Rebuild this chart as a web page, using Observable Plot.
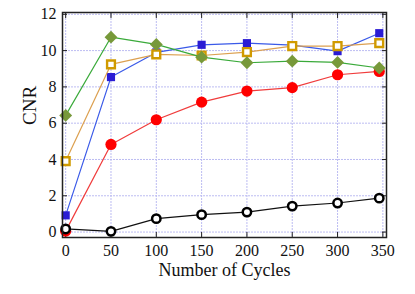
<!DOCTYPE html>
<html>
<head>
<meta charset="utf-8">
<script src="https://cdn.jsdelivr.net/npm/d3@7"></script>
<script src="https://cdn.jsdelivr.net/npm/@observablehq/plot@0.6"></script>
<style>
  html, body { margin: 0; padding: 0; background: #fff; }
  #chart { width: 415px; height: 294px; }
</style>
</head>
<body>
<div id="chart"></div>
<script>
const cycles = [0, 50, 100, 150, 200, 250, 300, 346];
const blueSquare   = [0.92, 8.54, 9.90, 10.32, 10.41, 10.30, 9.97, 10.96];
const orangeSquare = [3.91, 9.24, 9.79, 9.73, 9.92, 10.25, 10.25, 10.41];
const greenDiamond = [6.43, 10.74, 10.34, 9.64, 9.33, 9.42, 9.35, 9.04];
const redCircle    = [0.05, 4.83, 6.19, 7.16, 7.77, 7.96, 8.67, 8.85];
const blackCircle  = [0.17, 0.04, 0.74, 0.96, 1.10, 1.43, 1.60, 1.87];
const xTicks = [0, 50, 100, 150, 200, 250, 300, 350];
const yTicks = [0, 2, 4, 6, 8, 10, 12];

const rows = (ys) => cycles.map((c, i) => ({x: c, y: ys[i]}));
const red = rows(redCircle), black = rows(blackCircle), blue = rows(blueSquare),
      orange = rows(orangeSquare), green = rows(greenDiamond);

const font = "'Liberation Serif', 'Times New Roman', serif";
const grid = {stroke: "#bcbcf2", strokeOpacity: 1, strokeWidth: 1, strokeDasharray: "2,1"};

const chart = Plot.plot({
  width: 415, height: 294,
  marginLeft: 62, marginRight: 29, marginTop: 12, marginBottom: 57,
  style: {fontFamily: font, background: "#fff"},
  x: {domain: [-3.5, 354]},
  y: {domain: [-0.3, 12.1]},
  marks: [
    Plot.gridX(xTicks, grid),
    Plot.gridY(yTicks, grid),
    // inward ticks
    Plot.axisX(xTicks, {anchor: "bottom", tickSize: -5, text: null, label: null, stroke: "#222"}),
    Plot.axisX(xTicks, {anchor: "top", tickSize: -5, text: null, label: null, stroke: "#222"}),
    Plot.axisY(yTicks, {anchor: "left", tickSize: -5, text: null, label: null, stroke: "#222"}),
    Plot.axisY(yTicks, {anchor: "right", tickSize: -5, text: null, label: null, stroke: "#222"}),
    // tick labels
    Plot.axisX(xTicks, {anchor: "bottom", tickSize: 0, tickPadding: 7, fontSize: 16, label: null, fill: "#111"}),
    Plot.axisY(yTicks, {anchor: "left", tickSize: 0, tickPadding: 6, fontSize: 16, label: null, fill: "#111"}),
    Plot.text(["Number of Cycles"], {frameAnchor: "bottom", dy: 38, fontSize: 18, fill: "#111"}),
    Plot.text(["CNR"], {frameAnchor: "left", dx: -33, rotate: -90, fontSize: 19, fill: "#111"}),
    // series
    Plot.line(red, {x: "x", y: "y", stroke: "#f03c3c", strokeWidth: 1.2}),
    Plot.dot(red, {x: "x", y: "y", r: 5.6, fill: "#ff0000", stroke: "none", symbol: "circle"}),
    Plot.line(black, {x: "x", y: "y", stroke: "#111", strokeWidth: 1.2}),
    Plot.dot(black, {x: "x", y: "y", r: 4.2, fill: "#fff", stroke: "#000", strokeWidth: 2.5, symbol: "circle"}),
    Plot.line(blue, {x: "x", y: "y", stroke: "#3a5ae8", strokeWidth: 1.2}),
    Plot.dot(blue, {x: "x", y: "y", r: 4.6, fill: "#2a1cd4", stroke: "none", symbol: "square"}),
    Plot.line(orange, {x: "x", y: "y", stroke: "#dca050", strokeWidth: 1.2}),
    Plot.dot(orange, {x: "x", y: "y", r: 4.4, fill: "#fff", stroke: "#d09a00", strokeWidth: 2.4, symbol: "square"}),
    Plot.line(green, {x: "x", y: "y", stroke: "#3aaa3a", strokeWidth: 1.2}),
    Plot.dot(green, {x: "x", y: "y", r: 5.8, fill: "#77993a", stroke: "none", symbol: "diamond2"}),
    Plot.frame({stroke: "#222", strokeWidth: 1.5})
  ]
});
document.getElementById("chart").appendChild(chart);
</script>
</body>
</html>
